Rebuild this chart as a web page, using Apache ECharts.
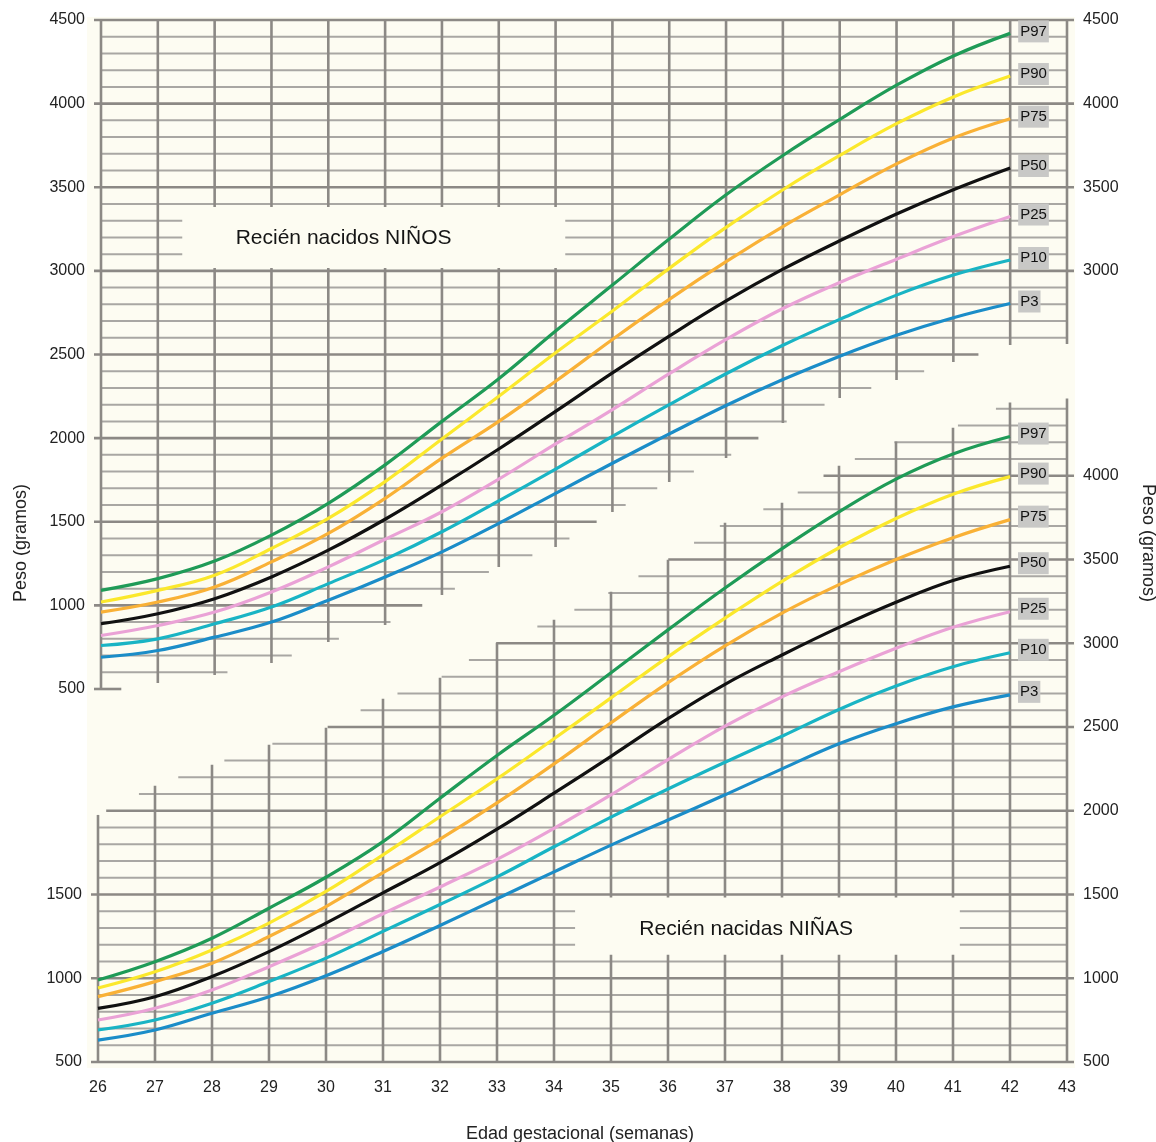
<!DOCTYPE html>
<html><head><meta charset="utf-8">
<script src="https://cdn.jsdelivr.net/npm/echarts@6/dist/echarts.min.js"></script>
<style>html,body{margin:0;padding:0;background:#fff}#c{width:1156px;height:1142px}</style>
</head><body><div id="c"></div>
<script>
// ---------- data ----------
const weeks = [26,27,28,29,30,31,32,33,34,35,36,37,38,39,40,41,42];
const weekTicks = [26,27,28,29,30,31,32,33,34,35,36,37,38,39,40,41,42,43];
const percentiles = ['P97','P90','P75','P50','P25','P10','P3'];

const boysP97 = [1090,1160,1265,1420,1610,1840,2100,2355,2640,2915,3190,3455,3690,3905,4110,4285,4420];
const boysP90 = [1020,1090,1180,1340,1520,1740,1995,2250,2510,2760,3015,3260,3485,3690,3880,4040,4165];
const boysP75 = [960,1020,1110,1260,1430,1640,1880,2100,2340,2590,2830,3055,3265,3455,3640,3795,3910];
const boysP50 = [890,950,1040,1170,1330,1515,1720,1935,2160,2390,2610,2820,3010,3180,3340,3485,3615];
const boysP25 = [820,880,960,1080,1230,1395,1560,1755,1965,2170,2385,2590,2775,2930,3070,3205,3325];
const boysP10 = [760,800,890,990,1130,1275,1440,1625,1815,2010,2200,2385,2555,2710,2855,2975,3065];
const boysP3  = [690,730,810,900,1030,1170,1320,1490,1670,1850,2025,2195,2350,2490,2615,2720,2805];

const girlsP97 = [990,1099,1239,1418,1603,1816,2075,2330,2570,2824,3080,3330,3565,3785,3980,4130,4234];
const girlsP90 = [942,1039,1169,1329,1518,1737,1964,2190,2430,2674,2919,3150,3370,3570,3745,3890,3995];
const girlsP75 = [890,980,1090,1249,1428,1630,1830,2047,2280,2525,2765,2985,3180,3350,3500,3630,3738];
const girlsP50 = [820,890,1010,1159,1329,1510,1690,1890,2105,2325,2550,2755,2930,3095,3245,3375,3460];
const girlsP25 = [751,821,930,1069,1219,1385,1545,1710,1895,2095,2305,2505,2680,2830,2970,3095,3188];
const girlsP10 = [691,751,851,980,1120,1280,1440,1605,1785,1962,2130,2290,2445,2605,2745,2860,2943];
const girlsP3  = [631,691,791,890,1015,1160,1315,1475,1635,1795,1945,2095,2250,2400,2520,2620,2692];

// where the printed grid of each panel stops (grams at each week tick, 26..43)
const boysGridFloor = [480,536,584,655,781,883,1062,1229,1349,1558,1738,1881,2090,2240,2348,2455,2557,2563];
const girlsGridCeil = [1975,2149,2274,2394,2495,2668,2794,3003,3140,3308,3499,3720,3839,4060,4204,4287,4437,4461];

const boysTitle = 'Recién nacidos NIÑOS';
const girlsTitle = 'Recién nacidas NIÑAS';

// ---------- style ----------
const COLORS = ['#1f9b57','#fbe82c','#f9b136','#111111','#eaa2d6','#19b4c4','#1b8dc8'];
const CREAM = '#fdfcf2';
const MAJOR = '#8c8985';
const MINOR = '#a9a7a3';
const FONT = '"Liberation Sans", Arial, Helvetica, sans-serif';

function interp(arr, w){
  if (w <= weekTicks[0]) return arr[0];
  for (let i=0;i<weekTicks.length-1;i++){
    if (w>=weekTicks[i] && w<=weekTicks[i+1]){
      const t=(w-weekTicks[i])/(weekTicks[i+1]-weekTicks[i]);
      return arr[i]+t*(arr[i+1]-arr[i]);
    }
  }
  return arr[arr.length-1];
}
function crossX(arr, v){
  for (let i=0;i<arr.length-1;i++){
    if (arr[i]<=v && arr[i+1]>=v){
      return weekTicks[i] + (v-arr[i])/(arr[i+1]-arr[i])*(weekTicks[i+1]-weekTicks[i]);
    }
  }
  return v<arr[0]?weekTicks[0]:weekTicks[weekTicks.length-1];
}
const X0 = 26, X1 = 43, Y0 = 500, Y1 = 4500;

const gridItems = [];
for (let v=Y0; v<=Y1; v+=100) gridItems.push([X0, v, 0]);
weekTicks.forEach(w => gridItems.push([w, Y0, 1]));

function gridRender(which){
  return function(params, api){
    const a = api.value(0), b = api.value(1), kind = api.value(2);
    let p0, p1, major;
    if (kind === 0){
      const v = b; major = (v % 500 === 0);
      let s = X0, e = X1;
      if (which === 'A'){
        if (v < boysGridFloor[boysGridFloor.length-1]) e = crossX(boysGridFloor, v);
      } else {
        if (v > girlsGridCeil[girlsGridCeil.length-1]) return null;
        if (v > girlsGridCeil[0]) s = crossX(girlsGridCeil, v);
      }
      p0 = api.coord([s, v]); p1 = api.coord([e, v]);
      if (major && s === X0) p0[0] -= 7;
      if (major && e === X1) p1[0] += 7;
    } else {
      const w = a; major = true;
      let lo = Y0, hi = Y1;
      if (which === 'A') lo = Math.max(Y0, interp(boysGridFloor, w));
      else hi = Math.min(Y1, interp(girlsGridCeil, w));
      p0 = api.coord([w, lo]); p1 = api.coord([w, hi]);
    }
    return {type:'line', shape:{x1:p0[0],y1:p0[1],x2:p1[0],y2:p1[1]},
      style:{stroke: major?MAJOR:MINOR, lineWidth: major?2.6:2}};
  };
}

function boxRender(text){
  return function(params, api){
    const p0 = api.coord([api.value(0), api.value(1)]);
    const p1 = api.coord([api.value(2), api.value(3)]);
    const c = api.coord([api.value(4), api.value(5)]);
    return {type:'group', children:[
      {type:'rect', shape:{x:Math.min(p0[0],p1[0]), y:Math.min(p0[1],p1[1]), width:Math.abs(p1[0]-p0[0]), height:Math.abs(p1[1]-p0[1])}, style:{fill:CREAM}},
      {type:'text', style:{text:text, x:c[0], y:c[1], align:'center', verticalAlign:'middle', fontSize:21, fontFamily:FONT, fill:'#151515'}}
    ]};
  };
}

const boysSeries = [boysP97,boysP90,boysP75,boysP50,boysP25,boysP10,boysP3];
const girlsSeries = [girlsP97,girlsP90,girlsP75,girlsP50,girlsP25,girlsP10,girlsP3];

function lineSeries(arrs, gi){
  return arrs.map((arr, i) => ({
    type:'line', name: percentiles[i], xAxisIndex: gi, yAxisIndex: gi*2,
    data: weeks.map((w, k) => [w, arr[k]]),
    smooth: 0.4, symbol:'none', z: 5,
    lineStyle:{color: COLORS[i], width: 3.2},
    itemStyle:{color: COLORS[i]},
    endLabel:{show:true, formatter: percentiles[i], color:'#111', fontSize:15, fontFamily:FONT,
      backgroundColor:'#c8c8c6', padding:[4,2,3,2], distance: 8, offset:[0, gi ? -3 : -2]},
    emphasis:{disabled:true}
  }));
}

const axisLabelBase = {fontSize:16, fontFamily:FONT, color:'#222'};
function yAx(gi, pos, filter){
  return {type:'value', gridIndex: gi, position: pos, min: Y0, max: Y1, interval: 500,
    axisLine:{show:false}, axisTick:{show:false}, splitLine:{show:false},
    axisLabel: Object.assign({}, axisLabelBase, {margin: 16, formatter: v => filter(v) ? String(v) : ''})};
}

const option = {
  animation: false,
  backgroundColor: '#ffffff',
  grid: [
    {left: 101, top: 20, width: 966, height: 669},
    {left: 98, top: 392, width: 969, height: 670}
  ],
  xAxis: [
    {type:'value', gridIndex:0, min:X0, max:X1, interval:1, show:false},
    {type:'value', gridIndex:1, min:X0, max:X1, interval:1,
      axisLine:{show:false}, axisTick:{show:false}, splitLine:{show:false},
      axisLabel: Object.assign({}, axisLabelBase, {margin: 18})}
  ],
  yAxis: [
    yAx(0, 'left', v => v >= boysGridFloor[0]),
    yAx(0, 'right', v => v >= boysGridFloor[boysGridFloor.length-1]),
    yAx(1, 'left', v => v <= girlsGridCeil[0]),
    yAx(1, 'right', v => v <= girlsGridCeil[girlsGridCeil.length-1])
  ],
  graphic: [
    {type:'rect', z:-10, silent:true, shape:{x:87, y:17, width:988, height:1051}, style:{fill:CREAM}},
    {type:'text', z:10, x:21, y:543, rotation: Math.PI/2, silent:true,
      style:{text:'Peso (gramos)', align:'center', verticalAlign:'middle', fontSize:18, fontFamily:FONT, fill:'#222'}},
    {type:'text', z:10, x:1148, y:543, rotation: -Math.PI/2, silent:true,
      style:{text:'Peso (gramos)', align:'center', verticalAlign:'middle', fontSize:18, fontFamily:FONT, fill:'#222'}},
    {type:'text', z:10, x:580, y:1134, silent:true,
      style:{text:'Edad gestacional (semanas)', align:'center', verticalAlign:'middle', fontSize:18, fontFamily:FONT, fill:'#222'}}
  ],
  series: [
    {type:'custom', xAxisIndex:0, yAxisIndex:0, z:1, clip:false, silent:true, renderItem: gridRender('A'), data: gridItems},
    {type:'custom', xAxisIndex:1, yAxisIndex:2, z:1, clip:false, silent:true, renderItem: gridRender('B'), data: gridItems},
    {type:'custom', xAxisIndex:0, yAxisIndex:0, z:2, clip:false, silent:true, renderItem: boxRender(boysTitle),
      data: [[27.43, 3017, 34.17, 3382, 30.27, 3197]]},
    {type:'custom', xAxisIndex:1, yAxisIndex:2, z:2, clip:false, silent:true, renderItem: boxRender(girlsTitle),
      data: [[34.37, 1140, 41.12, 1482, 37.37, 1290]]},
    ...lineSeries(boysSeries, 0),
    ...lineSeries(girlsSeries, 1)
  ]
};
const chart = echarts.init(document.getElementById('c'), null, {renderer:'canvas'});
chart.setOption(option);
</script></body></html>
